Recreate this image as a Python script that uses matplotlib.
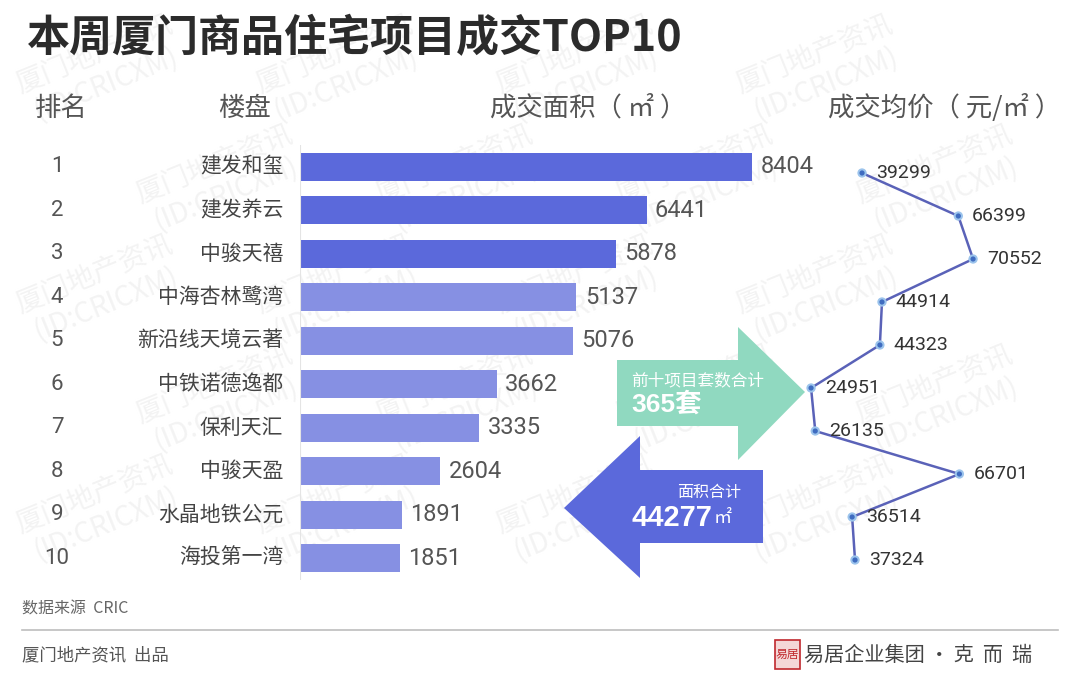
import matplotlib
matplotlib.use("Agg")
import matplotlib.pyplot as plt
from matplotlib.patches import Polygon, Rectangle

plt.rcParams["font.family"] = ["Noto Sans CJK SC", "DejaVu Sans"]

# data
ranks = ["1", "2", "3", "4", "5", "6", "7", "8", "9", "10"]
names = ["建发和玺", "建发养云", "中骏天禧", "中海杏林鹭湾", "新沿线天境云著",
         "中铁诺德逸都", "保利天汇", "中骏天盈", "水晶地铁公元", "海投第一湾"]
areas = [8404, 6441, 5878, 5137, 5076, 3662, 3335, 2604, 1891, 1851]
prices = [39299, 66399, 70552, 44914, 44323, 24951, 26135, 66701, 36514, 37324]
total_units = 365
total_area = 44277

W, H = 1080, 675
fig = plt.figure(figsize=(W / 100, H / 100), dpi=100)
fig.patch.set_facecolor("white")


def box(x, y, w, h):
    # pixel box (top-left origin) -> figure fraction
    return [x / W, 1 - (y + h) / H, w / W, h / H]


# background layer in pixel coordinates
bg = fig.add_axes([0, 0, 1, 1])
bg.set_xlim(0, W)
bg.set_ylim(H, 0)
bg.axis("off")

# watermark (kept inside the canvas)
for row in range(0, 6):
    for col in range(0, 5):
        x = col * 240 + (row % 2) * 120 + 100
        y = row * 110 + 70
        if 90 <= x <= 990 and 60 <= y <= 600:
            bg.text(x, y, "厦门地产资讯\n(ID:CRICXM)", fontsize=20, color="#f3f3f3",
                    rotation=22, ha="center", va="center", linespacing=1.1, zorder=0)

# title
bg.text(27, 38, "本周厦门商品住宅项目成交TOP10", fontsize=31, fontweight="bold",
        color="#2b2b2b", va="center", ha="left")

# headers
hdr = dict(fontsize=19, color="#555555", va="center", fontweight="light")
bg.text(35, 108, "排名", **hdr)
bg.text(218, 108, "楼盘", **hdr)
bg.text(490, 108, "成交面积（ ㎡ ）", **hdr)
bg.text(828, 108, "成交均价（ 元/㎡ ）", **hdr)

# arrows
green = "#90D9C0"
blue = "#5B69DB"
bg.add_patch(Polygon([(617, 360), (738, 360), (738, 327), (805, 392), (738, 460),
                      (738, 426), (617, 426)], closed=True, fc=green, ec="none", zorder=2))
bg.add_patch(Polygon([(763, 470), (640, 470), (640, 436), (564, 508), (640, 578),
                      (640, 543), (763, 543)], closed=True, fc=blue, ec="none", zorder=2))
bg.text(631, 381, "前十项目套数合计", fontsize=12, color="white", va="center", zorder=3)
bg.text(631, 404, f"{total_units}套", fontsize=19, fontweight="bold", color="white",
        va="center", zorder=3, family=["Liberation Sans", "Noto Sans CJK SC"])
bg.text(741, 493, "面积合计", fontsize=11.5, color="white", va="center", ha="right", zorder=3)
bg.text(632, 518, f"{total_area}", fontsize=21, fontweight="bold", color="white",
        va="center", zorder=3, family=["Liberation Sans"])
bg.text(714, 518, "㎡", fontsize=13, color="white", va="center", zorder=3)

# footer
bg.text(22, 609, "数据来源  CRIC", fontsize=11.5, color="#666666", va="center")
bg.plot([22, 1058], [630, 630], color="#bdbdbd", lw=1.2)
bg.text(22, 655, "厦门地产资讯  出品", fontsize=12.5, color="#555555", va="center")
bg.add_patch(Rectangle((775, 640), 25, 29, fc="#f4d7d7", ec="#c0282d", lw=1.2))
bg.text(787.5, 654.5, "易居", fontsize=8.5, color="#c0282d", ha="center", va="center")
bg.text(804, 655, "易居企业集团 · 克  而  瑞", fontsize=14.5, color="#444444", va="center")

# bars
ax = fig.add_axes(box(300, 145, 538, 435))
ax.patch.set_alpha(0)
ypos = list(range(len(areas)))
colors = [blue] * 3 + ["#8690E3"] * 7
ax.barh(ypos, areas, height=0.64, color=colors)
ax.set_xlim(0, 10000)
ax.set_ylim(len(areas) - 0.5, -0.5)
ax.axis("off")
ax.axvline(0, color="#e4e4e4", lw=0.8)
for y, a in zip(ypos, areas):
    ax.annotate(str(a), (a, y), xytext=(6, 0), textcoords="offset points",
                va="center", ha="left", fontsize=17, color="#555555",
                family=["Roboto", "DejaVu Sans"])
for y, n, r in zip(ypos, names, ranks):
    ax.annotate(n, (0, y), xytext=(-12, 0), textcoords="offset points",
                va="center", ha="right", fontsize=15, color="#444444")
    ax.annotate(r, (0, y), xytext=(-175, 0), textcoords="offset points",
                va="center", ha="center", fontsize=16, color="#555555",
                family=["Roboto", "DejaVu Sans"])

# price line
ax2 = fig.add_axes(box(700, 151.5, 380, 430))
ax2.patch.set_alpha(0)
ax2.plot(prices, ypos, color="#5A62B8", lw=1.8, zorder=2)
ax2.scatter(prices, ypos, s=45, color="#9CC4EC", zorder=3, edgecolors="none")
ax2.scatter(prices, ypos, s=14, color="#3F6CC0", zorder=4, edgecolors="none")
ax2.set_xlim(-6305, 100647)
ax2.set_ylim(len(prices) - 0.5, -0.5)
ax2.axis("off")
for y, p in zip(ypos, prices):
    ax2.annotate(str(p), (p, y), xytext=(10, 0), textcoords="offset points",
                 va="center", ha="left", fontsize=14, color="#333333",
                 family=["Roboto", "DejaVu Sans"])

fig.savefig("out.png", dpi=100)
